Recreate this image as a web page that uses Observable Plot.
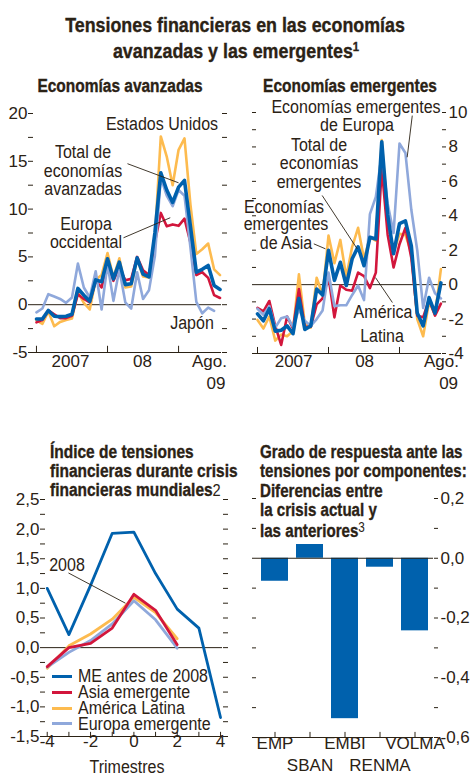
<!DOCTYPE html>
<html lang="es"><head><meta charset="utf-8">
<script src="https://cdn.jsdelivr.net/npm/d3@7"></script>
<script src="https://cdn.jsdelivr.net/npm/@observablehq/plot@0.6"></script>
<style>
html,body{margin:0;padding:0;background:#fff;}
#root{position:relative;width:473px;height:774px;overflow:hidden;background:#fff;
 font-family:"Liberation Sans",Arial,sans-serif;color:#2b2215;}
#root svg{position:absolute;left:0;top:0;}
.t{position:absolute;white-space:nowrap;font-size:18px;line-height:1;}
.b{font-weight:bold;-webkit-text-stroke:0.35px #2b2215;}
.lg{position:absolute;height:3px;width:20px;}
</style></head><body><div id="root"></div>
<script>
const INK = "#2b2215", DARK = "#0061ad", RED = "#d2163c", YEL = "#fdbb4f", LIGHT = "#8fa8db";
const FONT = '"Liberation Sans",Arial,sans-serif';

// ---- Economías avanzadas (monthly, Jan 2007 .. Aug 2009) ----
const months = ["2007-01","2007-02","2007-03","2007-04","2007-05","2007-06","2007-07","2007-08","2007-09","2007-10","2007-11","2007-12",
  "2008-01","2008-02","2008-03","2008-04","2008-05","2008-06","2008-07","2008-08","2008-09","2008-10","2008-11","2008-12",
  "2009-01","2009-02","2009-03","2009-04","2009-05","2009-06","2009-07","2009-08"];
const avTotal  = [-1.5,-1.5,-0.6,-1.2,-1.25,-1.2,-1.0,1.7,1.0,0.35,2.6,2.4,4.8,2.7,4.45,2.1,2.2,4.9,3.2,2.9,7.5,13.8,12.0,10.7,12.3,13.0,8.2,3.4,3.7,4.1,2.0,1.6];
const avUS     = [-1.65,-2.0,-0.7,-2.25,-1.8,-1.6,-1.45,1.3,0.2,-0.5,2.6,3.1,5.4,2.85,4.85,1.8,1.9,4.85,2.95,2.85,7.0,17.6,15.5,12.5,16.2,17.4,10.5,5.3,5.8,6.4,3.7,3.1];
const avEurope = [-1.85,-1.6,-0.6,-1.0,-1.4,-1.4,-1.15,1.1,0.6,0.25,2.5,1.8,4.4,2.5,3.9,2.55,2.7,5.0,3.6,3.1,6.5,9.6,8.2,8.4,8.25,9.0,6.5,3.1,3.4,2.8,1.0,0.7];
const avJapan  = [-0.8,-0.4,1.1,0.85,0.6,0.2,0.75,4.3,1.8,0.75,3.5,-0.5,4.25,0.4,3.7,0.25,-0.4,3.4,0.6,1.5,5.1,13.3,11.4,10.3,12.0,11.4,6.0,0.3,-0.9,-0.3,-0.65,null];

// ---- Economías emergentes ----
const emTotal  = [-1.7,-2.1,-1.4,-2.7,-2.65,-2.4,-2.85,-0.8,-2.6,-2.4,-0.25,-0.6,2.0,0.25,1.3,-0.05,1.5,2.2,1.1,2.75,2.65,8.3,4.05,1.8,3.55,3.7,2.25,-1.65,-2.4,-0.75,-1.65,0.1];
const emEurope = [-1.4,-1.75,-1.25,-2.5,-1.95,-1.85,-2.45,-1.45,-2.1,-2.4,-2.0,-1.5,0.7,-1.25,-1.2,-1.2,-0.6,-0.05,-0.9,4.1,5.1,7.6,4.7,3.0,8.2,7.65,4.35,2.0,-1.35,0.4,-0.5,-0.8];
const emAsia   = [-1.35,-1.55,-0.95,-2.4,-3.5,-1.85,-2.55,-0.25,-2.45,-2.45,-1.15,-0.8,0.45,-1.9,-0.05,-0.3,-0.35,0.7,0.5,-0.2,0.7,6.8,2.9,1.0,2.35,3.3,1.55,-1.8,-1.9,-0.85,-1.8,-1.1];
const emLatam  = [-2.05,-2.55,-1.85,-3.25,-2.9,-3.0,-2.7,0.6,-2.3,-2.5,0.4,-0.6,2.85,1.25,2.6,0.45,2.2,3.3,1.5,2.75,2.55,8.4,3.7,1.85,2.95,2.9,1.85,-2.0,-3.0,-1.0,-1.75,0.9];

// ---- Índice de tensiones durante crisis financieras mundiales ----
const quarters   = [-4,-3,-2,-1,0,1,2,3,4];
const mePre2008  = [1.0,0.22,1.05,1.93,1.95,1.25,0.65,0.33,-1.18];
const quarters08 = [-4,-3,-2,-1,0,1,2];
const asia2008   = [-0.32,0.0,0.07,0.33,0.9,0.63,0.05];
const latam2008  = [-0.35,0.03,0.23,0.48,0.85,0.59,0.15];
const europe2008 = [-0.33,-0.08,0.12,0.4,0.79,0.47,-0.01];

// ---- Grado de respuesta por componentes ----
const components    = ["EMP","SBAN","EMBI","RENMA","VOLMA"];
const componentDiff = [-0.077,0.046,-0.537,-0.03,-0.243];

// ---- ticks ----
const avMajor = [-5,0,5,10,15,20], avMinor = [-2.5,2.5,7.5,12.5,17.5];
const emMajor = [-4,-2,0,2,4,6,8,10], emMinor = [-3,-1,1,3,5,7,9];
const crMajor = [-1.5,-1,-0.5,0,0.5,1,1.5,2,2.5], crMinor = [-1.25,-0.75,-0.25,0.25,0.75,1.25,1.75,2.25];
const cpMajor = [-0.6,-0.4,-0.2,0,0.2], cpMinor = [-0.5,-0.3,-0.1,0.1];
const quarterLabels = [-4,-2,0,2,4];
const yearStarts = [0,12,24];
const avXLabels = [{x:5.74,t:"2007"},{x:17.9,t:"08"},{x:29.2,t:"Ago."}], avXLabels2 = [{x:30.3,t:"09"}];
const emXLabels = [{x:6.1,t:"2007"},{x:18.1,t:"08"},{x:31.1,t:"Ago."}], emXLabels2 = [{x:32.3,t:"09"}];

const avLeaders = [{x1:15.37,y1:14.75,x2:24.0,y2:12.75},{x1:14.7,y1:7.0,x2:22.6,y2:9.1}];
const emLeaders = [{x1:26.16,y1:9.82,x2:25.3,y2:7.4},{x1:10.93,y1:5.18,x2:16.85,y2:2.08},{x1:9.52,y1:2.37,x2:11.49,y2:2.08},{x1:19.94,y1:0.41,x2:22.8,y2:-1.04}];
const crLeaders = [{x1:-3.02,y1:1.26,x2:-0.39,y2:0.75}];

const root = document.getElementById("root");
const STYLE = {background:"transparent", overflow:"visible", fontFamily:FONT, fontSize:"17px", color:INK};
const idx = (d, i) => i;
const val = d => d;
const intFmt = d => String(d);
const commaFmt = d => d.toFixed(1).replace(".", ",");
const blank = () => "";

function frame({left, right, top, bottom, ...rest}) {
  const svg = Plot.plot({width:473, height:774, marginLeft:left, marginRight:473 - right,
    marginTop:top, marginBottom:774 - bottom, style:STYLE, ...rest});
  root.appendChild(svg);
}

// Top-left
frame({left:33, right:221, top:113, bottom:352,
  x:{domain:[-0.5,31.25], axis:null, label:null}, y:{domain:[-5,20], label:null},
  marks:[
    Plot.ruleY([0,-5], {stroke:INK, strokeWidth:1}),
    Plot.axisY(avMajor, {anchor:"left", tickSize:5, tickPadding:1, tickFormat:intFmt, label:null}),
    Plot.axisY(avMinor, {anchor:"left", tickSize:5, tickFormat:blank, label:null}),
    Plot.axisY(avMajor.concat(avMinor), {anchor:"right", tickSize:5, tickFormat:blank, label:null}),
    Plot.ruleX(yearStarts, {x:val, y1:-5, y2:-4.35, stroke:INK}),
    Plot.text(avXLabels, {x:"x", text:"t", frameAnchor:"bottom", dy:14}),
    Plot.text(avXLabels2, {x:"x", text:"t", frameAnchor:"bottom", dy:36}),
    Plot.line(avUS, {x:idx, y:val, stroke:YEL, strokeWidth:2.6}),
    Plot.line(avEurope, {x:idx, y:val, stroke:RED, strokeWidth:2.6}),
    Plot.line(avJapan, {x:idx, y:val, stroke:LIGHT, strokeWidth:2.6}),
    Plot.line(avTotal, {x:idx, y:val, stroke:DARK, strokeWidth:3.6}),
    Plot.link(avLeaders, {x1:"x1", y1:"y1", x2:"x2", y2:"y2", stroke:INK, strokeWidth:0.9})
  ]});

// Top-right
frame({left:256, right:441, top:112, bottom:353,
  x:{domain:[-0.17,31.1], axis:null, label:null}, y:{domain:[-4,10], label:null},
  marks:[
    Plot.ruleY([0,-4], {stroke:INK, strokeWidth:1}),
    Plot.axisY(emMajor.concat(emMinor), {anchor:"left", tickSize:4, tickFormat:blank, label:null}),
    Plot.axisY(emMajor, {anchor:"right", tickSize:4, tickPadding:3, tickFormat:intFmt, label:null}),
    Plot.axisY(emMinor, {anchor:"right", tickSize:4, tickFormat:blank, label:null}),
    Plot.ruleX(yearStarts, {x:val, y1:-4, y2:-3.65, stroke:INK}),
    Plot.text(emXLabels, {x:"x", text:"t", frameAnchor:"bottom", dy:13}),
    Plot.text(emXLabels2, {x:"x", text:"t", frameAnchor:"bottom", dy:35}),
    Plot.line(emLatam, {x:idx, y:val, stroke:YEL, strokeWidth:2.6}),
    Plot.line(emAsia, {x:idx, y:val, stroke:RED, strokeWidth:2.6}),
    Plot.line(emEurope, {x:idx, y:val, stroke:LIGHT, strokeWidth:2.6}),
    Plot.line(emTotal, {x:idx, y:val, stroke:DARK, strokeWidth:3.6}),
    Plot.link(emLeaders, {x1:"x1", y1:"y1", x2:"x2", y2:"y2", stroke:INK, strokeWidth:0.9})
  ]});

// Bottom-left
frame({left:45, right:222, top:499, bottom:736,
  x:{domain:[-4.08,4.09], axis:null, label:null}, y:{domain:[-1.5,2.5], label:null},
  marks:[
    Plot.ruleY([0,-1.5], {stroke:INK, strokeWidth:1}),
    Plot.axisY(crMajor, {anchor:"left", tickSize:5, tickPadding:1, tickFormat:commaFmt, label:null}),
    Plot.axisY(crMinor, {anchor:"left", tickSize:5, tickFormat:blank, label:null}),
    Plot.axisY(crMajor.concat(crMinor), {anchor:"right", tickSize:5, tickFormat:blank, label:null}),
    Plot.ruleX(quarters, {x:val, y1:-1.5, y2:-1.43, stroke:INK}),
    Plot.text(quarterLabels, {x:val, text:intFmt, frameAnchor:"bottom", dy:10}),
    Plot.line(latam2008, {x:(d,i)=>quarters08[i], y:val, stroke:YEL, strokeWidth:2.8}),
    Plot.line(europe2008, {x:(d,i)=>quarters08[i], y:val, stroke:LIGHT, strokeWidth:2.8}),
    Plot.line(asia2008, {x:(d,i)=>quarters08[i], y:val, stroke:RED, strokeWidth:2.8}),
    Plot.line(mePre2008, {x:(d,i)=>quarters[i], y:val, stroke:DARK, strokeWidth:2.8}),
    Plot.link(crLeaders, {x1:"x1", y1:"y1", x2:"x2", y2:"y2", stroke:INK, strokeWidth:0.9})
  ]});

// Bottom-right
const compTable = components.map((c, i) => ({component:c, diff:componentDiff[i]}));
frame({left:256, right:433, top:498, bottom:737,
  x:{domain:components, paddingInner:0.24, paddingOuter:0.113, axis:null, label:null}, y:{domain:[-0.6,0.2], label:null},
  marks:[
    Plot.barY(compTable, {x:"component", y:"diff", fill:DARK}),
    Plot.ruleY([0,-0.6], {stroke:INK, strokeWidth:1}),
    Plot.axisY(cpMajor.concat(cpMinor), {anchor:"left", tickSize:4, tickFormat:blank, label:null}),
    Plot.axisY(cpMajor, {anchor:"right", tickSize:4, tickPadding:3, tickFormat:commaFmt, label:null}),
    Plot.axisY(cpMinor, {anchor:"right", tickSize:4, tickFormat:blank, label:null}),
    Plot.ruleX(components, {x:val, y1:-0.6, y2:-0.583, stroke:INK}),
    Plot.text(components.filter((c,i)=>i%2===0), {x:val, text:val, frameAnchor:"bottom", dy:11}),
    Plot.text(components.filter((c,i)=>i%2===1), {x:val, text:val, frameAnchor:"bottom", dy:33})
  ]});

// ---- text ----
function txt(html, x, y, {bold=false, anchor="middle", size=18, sx=0.89} = {}) {
  const d = document.createElement("div");
  d.className = "t" + (bold ? " b" : "");
  d.innerHTML = html;
  d.style.fontSize = size + "px";
  d.style.left = x + "px";
  d.style.top = y + "px";
  if (anchor === "middle") {
    d.style.transformOrigin = "50% 50%";
    d.style.transform = `translate(-50%,-50%) scaleX(${sx})`;
  } else {
    d.style.transformOrigin = "0 50%";
    d.style.transform = `translate(0,-50%) scaleX(${sx})`;
  }
  root.appendChild(d);
}
txt("Tensiones financieras en las economías", 235, 25, {bold:true, size:20.5, sx:0.87});
txt('avanzadas y las emergentes<sup style="font-size:13px;vertical-align:7px;line-height:0">1</sup>', 236, 51, {bold:true, size:20.5, sx:0.87});
txt("Economías avanzadas", 120, 86, {bold:true, sx:0.86});
txt("Economías emergentes", 350, 86, {bold:true, sx:0.86});

txt("Estados Unidos", 162, 124);
txt("Total de", 83, 152); txt("economías", 83, 171); txt("avanzadas", 83, 189);
txt("Europa", 86, 224); txt("occidental", 86, 242);
txt("Japón", 192, 323);

txt("Economías emergentes", 356, 107); txt("de Europa", 357, 125);
txt("Total de", 319, 145); txt("economías", 319, 163); txt("emergentes", 319, 182);
txt("Economías", 284, 207); txt("emergentes", 286, 224); txt("de Asia", 286, 243);
txt("América", 383, 312); txt("Latina", 382, 336);

txt("Índice de tensiones", 50, 452, {bold:true, anchor:"start", sx:0.86});
txt("financieras durante crisis", 50, 471, {bold:true, anchor:"start", sx:0.86});
txt('financieras mundiales<span style="font-weight:normal;-webkit-text-stroke:0;font-size:17px">2</span>', 50, 490, {bold:true, anchor:"start", sx:0.86});
txt("2008", 67, 565);
txt("Trimestres", 127, 767);

txt("Grado de respuesta ante las", 260, 452, {bold:true, anchor:"start", sx:0.84});
txt("tensiones por componentes:", 260, 471, {bold:true, anchor:"start", sx:0.84});
txt("Diferencias entre", 260, 491, {bold:true, anchor:"start", sx:0.84});
txt("la crisis actual y", 260, 510, {bold:true, anchor:"start", sx:0.84});
txt('las anteriores<span style="font-weight:normal;-webkit-text-stroke:0;font-size:14px;vertical-align:5px">3</span>', 260, 530, {bold:true, anchor:"start", sx:0.84});

// legend (bottom-left)
const legendItems = [["ME antes de 2008", DARK], ["Asia emergente", RED], ["América Latina", YEL], ["Europa emergente", LIGHT]];
const legendRows = [676, 692, 708, 723.5];
legendItems.forEach(([name, color], i) => {
  const l = document.createElement("div");
  l.className = "lg"; l.style.background = color;
  l.style.left = "52px"; l.style.top = (legendRows[i] - 1.5) + "px";
  root.appendChild(l);
  txt(name, 78, legendRows[i], {anchor:"start"});
});
</script></body></html>
